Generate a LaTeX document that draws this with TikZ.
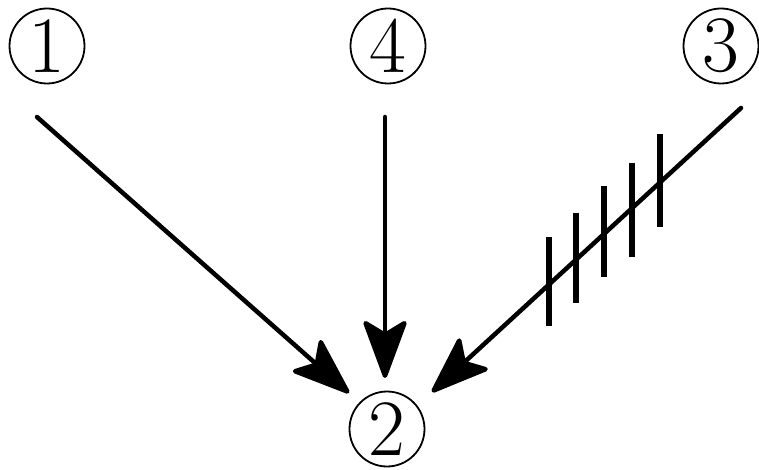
\documentclass[tikz,border=0pt]{standalone}
\usetikzlibrary{arrows.meta}
\begin{document}
\begin{tikzpicture}[x=1pt,y=-1pt,
  num/.style={circle,draw,line width=1.8pt,minimum size=75pt,inner sep=0pt,font=\fontsize{80}{80}\selectfont},
  arr/.style={line width=4.5pt,line cap=round,-{Stealth[length=64pt,width=47pt,inset=14pt,round]}},
  hatch/.style={line width=6.5pt}]
\useasboundingbox (0,0) rectangle (759,470);
\node[num] (n1) at (47,46) {1};
\node[num] (n4) at (388,46) {4};
\node[num] (n3) at (721,46) {3};
\node[num] (n2) at (387,429) {2};
\coordinate (s1) at (37,117);
\coordinate (s4) at (385,117);
\coordinate (s3) at (741,108);
\coordinate (e1) at (349,393);
\coordinate (e4) at (385,378);
\coordinate (e3) at (432,392);
\draw[arr] (s1) -- (e1);
\draw[arr] (s4) -- (e4);
\draw[arr] (s3) -- (e3);
\coordinate (h1a) at (549,237); \coordinate (h1b) at (549,326);
\coordinate (h2a) at (576,213); \coordinate (h2b) at (576,303);
\coordinate (h3a) at (604,186); \coordinate (h3b) at (604,277);
\coordinate (h4a) at (632,163); \coordinate (h4b) at (632,257);
\coordinate (h5a) at (660,134); \coordinate (h5b) at (660,227);
\draw[hatch] (h1a) -- (h1b);
\draw[hatch] (h2a) -- (h2b);
\draw[hatch] (h3a) -- (h3b);
\draw[hatch] (h4a) -- (h4b);
\draw[hatch] (h5a) -- (h5b);
\end{tikzpicture}
\end{document}
